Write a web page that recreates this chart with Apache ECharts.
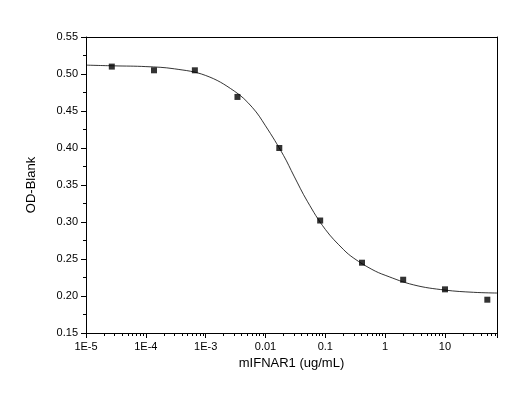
<!DOCTYPE html>
<html><head><meta charset="utf-8">
<script src="https://cdn.jsdelivr.net/npm/echarts@6/dist/echarts.min.js"></script>
<style>html,body{margin:0;padding:0;background:#fff}#c{width:520px;height:410px}</style>
</head><body><div id="c"></div>
<script>
const pointX = [2.7e-5, 1.37e-4, 6.6e-4, 3.4e-3, 0.017, 0.082, 0.41, 2.0, 10, 51];
const pointY = [0.510, 0.505, 0.505, 0.469, 0.400, 0.302, 0.245, 0.222, 0.209, 0.195];
const curveX = [1e-5, 3e-5, 1e-4, 3e-4, 1e-3, 3e-3, 0.006, 0.01, 0.02, 0.03, 0.05, 0.1, 0.2, 0.3, 0.6, 1, 3, 10, 30, 74];
const curveY = [0.512, 0.511, 0.510, 0.507, 0.498, 0.477, 0.455, 0.430, 0.390, 0.362, 0.328, 0.290, 0.263, 0.251, 0.236, 0.228, 0.215, 0.208, 0.205, 0.204];
const yTicks = [0.15, 0.55, 0.05];
const xLabels = {'-5':'1E-5','-4':'1E-4','-3':'1E-3','-2':'0.01','-1':'0.1','0':'1','1':'10'};

const chart = echarts.init(document.getElementById('c'));
const ax = {color:'#000', width:1};
chart.setOption({
  animation:false,
  grid:{left:86,right:23,top:37,bottom:77},
  xAxis:[{
    type:'log', logBase:10, min:1e-5, max:74,
    name:'mIFNAR1 (ug/mL)', nameLocation:'middle', nameGap:24,
    nameTextStyle:{fontFamily:'Liberation Sans',fontSize:13,color:'#000'},
    axisLine:{lineStyle:ax}, axisTick:{inside:false,length:5,lineStyle:ax},
    minorTick:{show:true,splitNumber:9,length:3,lineStyle:ax},
    splitLine:{show:false},
    axisLabel:{fontFamily:'Liberation Sans',fontSize:11,color:'#000',
      formatter:v=>{const k=Math.round(Math.log10(v));return xLabels[String(k)]||'';}}
  },{
    type:'log', logBase:10, min:1e-5, max:74, position:'top',
    axisLine:{lineStyle:ax}, axisTick:{show:false}, axisLabel:{show:false}, splitLine:{show:false}
  }],
  yAxis:[{
    type:'value', min:yTicks[0], max:yTicks[1], interval:yTicks[2],
    name:'OD-Blank', nameLocation:'middle', nameGap:48,
    nameTextStyle:{fontFamily:'Liberation Sans',fontSize:13,color:'#000'},
    axisLine:{show:true,lineStyle:ax}, axisTick:{show:true,length:5,lineStyle:ax},
    minorTick:{show:true,splitNumber:2,length:3,lineStyle:ax},
    splitLine:{show:false},
    axisLabel:{fontFamily:'Liberation Sans',fontSize:11,color:'#000',formatter:v=>v.toFixed(2)}
  },{
    type:'value', min:yTicks[0], max:yTicks[1], position:'right',
    axisLine:{show:true,lineStyle:ax}, axisTick:{show:false}, axisLabel:{show:false}, splitLine:{show:false}
  }],
  series:[{
    type:'line', smooth:0.4, symbol:'none',
    data:curveX.map((x,i)=>[x,curveY[i]]),
    lineStyle:{color:'#000',width:0.8}
  },{
    type:'scatter', symbol:'rect', symbolSize:6,
    data:pointX.map((x,i)=>[x,pointY[i]]),
    itemStyle:{color:'#000'}
  }]
});
</script></body></html>
